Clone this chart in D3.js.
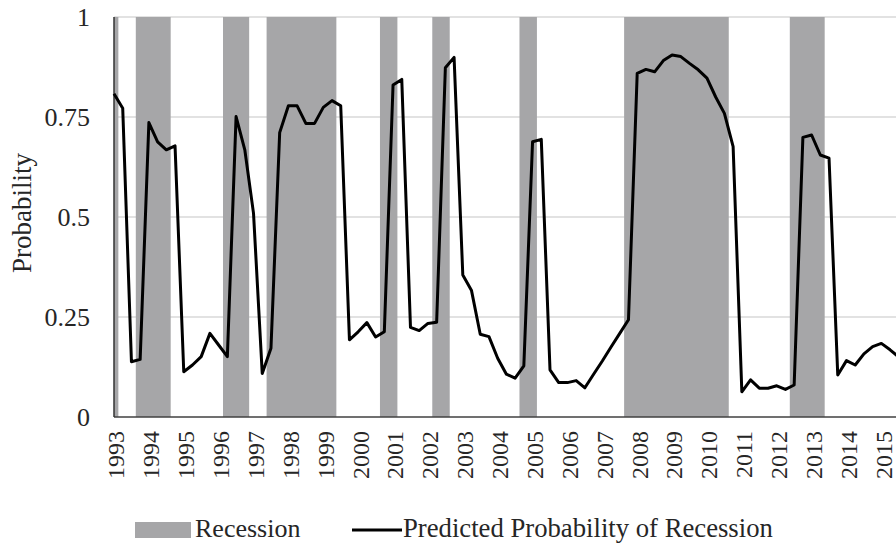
<!DOCTYPE html>
<html>
<head>
<meta charset="utf-8">
<script src="https://cdn.jsdelivr.net/npm/d3@7"></script>
<style>
  html, body { margin: 0; padding: 0; background: #fff; }
  svg { display: block; }
  text { font-family: "Liberation Serif", "Times New Roman", serif; fill: #262626; }
</style>
</head>
<body>
<svg id="chart" width="896" height="544"></svg>
<script>
// ---- data (quarterly, 1993Q1 onward) ----
const startYear = 1993;
const probability = [
  0.808, 0.772, 0.138, 0.144, 0.736, 0.688, 0.668, 0.678,
  0.113, 0.130, 0.151, 0.209, 0.180, 0.151, 0.751, 0.668,
  0.509, 0.109, 0.172, 0.711, 0.778, 0.778, 0.734, 0.734,
  0.774, 0.791, 0.778, 0.193, 0.213, 0.236, 0.200, 0.213,
  0.830, 0.844, 0.224, 0.216, 0.234, 0.237, 0.873, 0.899,
  0.355, 0.316, 0.207, 0.201, 0.147, 0.107, 0.097, 0.128,
  0.688, 0.694, 0.118, 0.086, 0.086, 0.091, 0.073, 0.107,
  0.140, 0.175, 0.209, 0.243, 0.859, 0.869, 0.863, 0.891,
  0.905, 0.901, 0.884, 0.868, 0.847, 0.800, 0.759, 0.676,
  0.063, 0.093, 0.072, 0.072, 0.078, 0.069, 0.080, 0.699,
  0.705, 0.655, 0.647, 0.105, 0.141, 0.130, 0.158, 0.176,
  0.184, 0.168, 0.150
];
// recession periods as [first quarter index, last quarter index]
const recessionStart = [0, 3, 13, 18, 31, 37, 47, 59, 78];
const recessionEnd   = [0, 6, 15, 25, 32, 38, 48, 70, 81];
const yearLabels = d3.range(1993, 2016).map(String);
const yTicks = [0, 0.25, 0.5, 0.75, 1];

// ---- layout ----
const W = 896, H = 544;
const plotLeft = 114, plotTop = 17, plotBottom = 417;
const qStep = 8.72;
const svg = d3.select("#chart");

const x = d3.scaleLinear().domain([0, 90]).range([plotLeft, plotLeft + 90 * qStep]);
const y = d3.scaleLinear().domain([0, 1]).range([plotBottom, plotTop]);

// gridlines
svg.append("g").selectAll("line").data(yTicks.filter(d => d > 0)).join("line")
  .attr("x1", plotLeft).attr("x2", W)
  .attr("y1", d => y(d)).attr("y2", d => y(d))
  .attr("stroke", "#d9d9d9").attr("stroke-width", 1.5);

// recession bars
const recs = recessionStart.map((s, i) => ({ s, e: recessionEnd[i] }));
svg.append("g").selectAll("rect").data(recs).join("rect")
  .attr("x", d => Math.max(plotLeft, x(d.s - 0.5)))
  .attr("width", d => x(d.e + 0.5) - Math.max(plotLeft, x(d.s - 0.5)))
  .attr("y", y(1)).attr("height", y(0) - y(1))
  .attr("fill", "#a6a6a8");

// axes lines
svg.append("line").attr("x1", plotLeft).attr("x2", W).attr("y1", y(0)).attr("y2", y(0))
  .attr("stroke", "#404040").attr("stroke-width", 1.5);
svg.append("line").attr("x1", plotLeft).attr("x2", plotLeft).attr("y1", y(1)).attr("y2", y(0))
  .attr("stroke", "#333").attr("stroke-width", 1.5);

// line
const line = d3.line().x((d, i) => x(i)).y(d => y(d));
svg.append("path").datum(probability)
  .attr("d", line).attr("fill", "none")
  .attr("stroke", "#000").attr("stroke-width", 3)
  .attr("stroke-linejoin", "round");

// y tick labels
svg.append("g").selectAll("text").data(yTicks).join("text")
  .attr("x", 90).attr("y", d => y(d)).attr("dy", "0.35em")
  .attr("text-anchor", "end").attr("font-size", 26)
  .text(d => d === 0 ? "0" : d === 1 ? "1" : String(d));

// y title
svg.append("text")
  .attr("transform", `translate(22,${213}) rotate(-90)`)
  .attr("text-anchor", "middle").attr("dy", "0.35em").attr("font-size", 27)
  .text("Probability");

// x labels
svg.append("g").selectAll("text").data(yearLabels).join("text")
  .attr("transform", (d, i) => `translate(${x(i * 4) + 2},${431}) rotate(-90)`)
  .attr("text-anchor", "end").attr("dy", "0.35em").attr("font-size", 24)
  .text(d => d);

// legend
const lg = svg.append("g");
lg.append("rect").attr("x", 135).attr("y", 522).attr("width", 56).attr("height", 16).attr("fill", "#a6a6a8");
lg.append("text").attr("x", 195).attr("y", 537).attr("font-size", 26).text("Recession");
lg.append("line").attr("x1", 352).attr("x2", 402).attr("y1", 530).attr("y2", 530)
  .attr("stroke", "#000").attr("stroke-width", 3);
lg.append("text").attr("x", 403).attr("y", 537).attr("font-size", 26.7).text("Predicted Probability of Recession");
</script>
</body>
</html>
